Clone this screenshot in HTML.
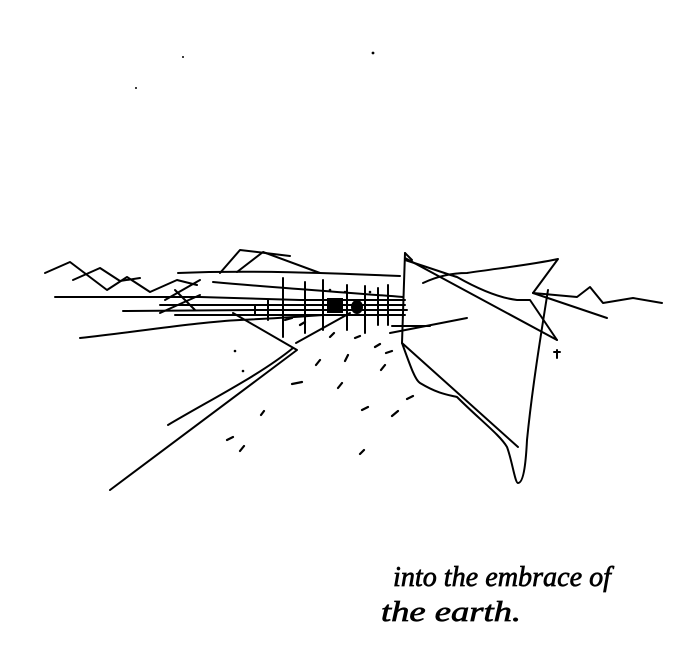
<!DOCTYPE html>
<html><head><meta charset="utf-8"><style>html,body{margin:0;padding:0;background:#fff}svg{display:block}</style></head>
<body>
<svg width="700" height="661" viewBox="0 0 700 661" xmlns="http://www.w3.org/2000/svg">
<rect width="700" height="661" fill="#fff"/>
<g fill="none" stroke="#000" stroke-width="2" stroke-linecap="round" stroke-linejoin="round">
<path d="M45,273 L70,262 L107,290 L127,277 L150,292 L177,280 L197,285"/>
<path d="M73,280 L100,268 L120,281 L140,278"/>
<path d="M55,297 L200,297 L300,300 L405,300"/>
<path d="M123,311 L260,310 L407,310"/>
<path d="M178,273 C250,270 330,273 400,276"/>
<path d="M213,282 C280,288 340,292 403,297"/>
<path d="M160,305 L405,305"/>
<path d="M175,315 L405,315"/>
<path d="M80,338 C150,330 200,322 240,320 C280,318 310,316 323,315"/>
<path d="M220,273 L240,250 L290,256"/>
<path d="M237,272 L263,252 L320,273"/>
<path d="M165,300 L200,280 M175,290 L195,310 M160,313 L200,295"/>
<path d="M110,490 L297,350 L233,313"/>
<path d="M168,425 C210,400 260,375 293,348"/>
<path d="M296,343 L350,313"/>
<path d="M283,278 L283,337 M305,282 L305,333 M323,280 L323,330 M347,285 L347,330 M365,286 L365,333 M378,288 L378,325 M388,285 L388,325 M268,300 L268,320 M255,305 L255,315"/>
<path d="M405,253 L402,343"/>
<path d="M405,253 L412,260"/>
<path d="M405,258 L557,340"/>
<path d="M423,283 C440,275 455,273 467,273 C500,268 530,265 558,259 L533,293"/>
<path d="M533,293 L607,318"/>
<path d="M533,293 L577,297 L590,287 L603,303 L633,298 L662,303"/>
<path d="M405,260 C430,268 450,275 457,277 C480,290 500,298 517,300 L530,300 L557,340"/>
<path d="M402,343 C410,365 415,380 420,383 C440,395 450,395 457,397 C480,420 500,435 507,447 C512,460 515,483 518,483 C524,483 526,460 527,440 C532,390 540,340 548,290"/>
<path d="M402,343 L518,447"/>
<path d="M390,333 L467,318"/>
<path d="M392,326 L430,326"/>
<path d="M557,350 L557,358 M554,352 L560,352"/>
</g>
<g fill="#000">
<rect x="327" y="298" width="16" height="15"/>
<ellipse cx="357" cy="307" rx="6" ry="7"/>
<circle cx="183" cy="57" r="1"/><circle cx="373" cy="53" r="1.4"/><circle cx="136" cy="88" r="1"/>
<circle cx="235" cy="351" r="1.3"/><circle cx="243" cy="371" r="1.3"/><circle cx="330" cy="290" r="1.3"/><circle cx="345" cy="292" r="1.3"/><circle cx="370" cy="292" r="1.3"/>
</g>
<g stroke="#000" stroke-width="2.2" stroke-linecap="round">
<path d="M316,365 L320,360 M345,361 L348,355 M338,388 L342,383 M292,384 L302,382 M362,410 L368,407 M392,416 L398,411 M407,399 L413,396 M261,415 L264,411 M227,440 L233,437 M240,451 L244,446 M360,454 L364,450 M381,370 L385,365 M386,353 L392,351 M375,347 L380,344 M355,338 L360,336 M330,337 L334,333 M300,325 L305,322 M285,320 L292,318"/>
</g>
<g font-family="'Liberation Serif', serif" font-style="italic" fill="#000" stroke="#000" stroke-width="0.7">
<text x="393" y="586" font-size="29" textLength="218" lengthAdjust="spacingAndGlyphs">into the embrace of</text>
<text x="381" y="621" font-size="29" textLength="140" lengthAdjust="spacingAndGlyphs">the earth.</text>
</g>
</svg>
</body></html>
